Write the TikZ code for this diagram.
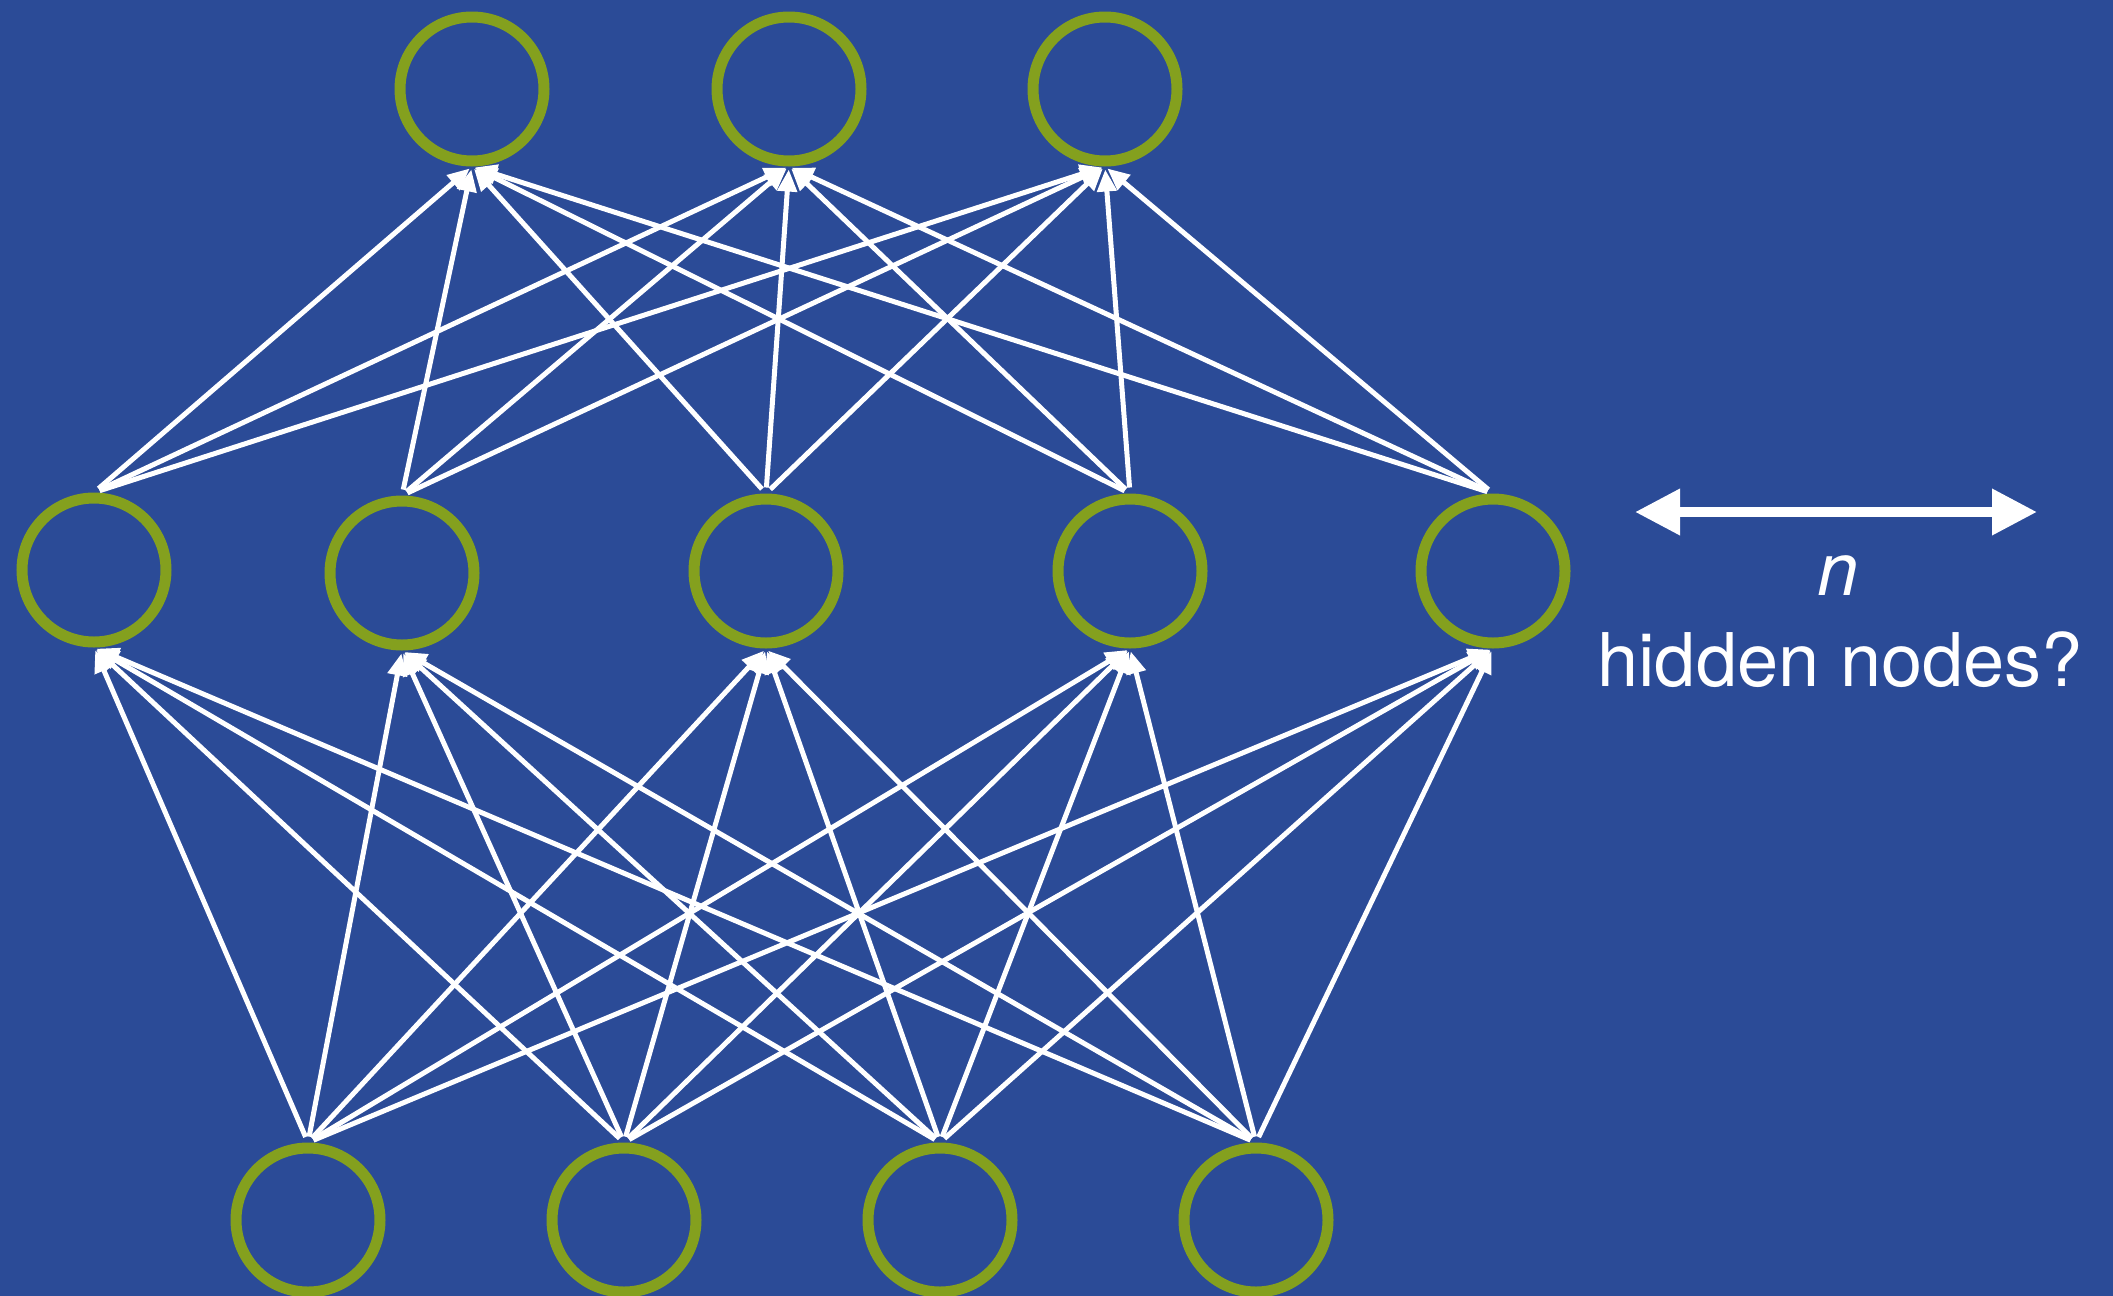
\documentclass[tikz,border=0pt]{standalone}
\usepackage{fontspec}
\setmainfont{TeX Gyre Heros}
\usetikzlibrary{arrows.meta}
\definecolor{slideblue}{RGB}{43,75,151}
\definecolor{unitgreen}{RGB}{132,160,30}
\begin{document}
\begin{tikzpicture}[x=1pt,y=-1pt,
  unit/.style={circle, draw=unitgreen, line width=11pt, minimum size=144pt, inner sep=0pt},
  link/.style={draw=white, line width=5pt, -{Triangle[length=22pt,width=19pt]},
    shorten <=6pt, shorten >=3pt},
  sidetext/.style={text=white, font=\fontsize{74}{88}\selectfont, anchor=base, inner sep=0pt}]
% slide background
\fill[slideblue] (0,0) rectangle (2113,1296);
\useasboundingbox (0,0) rectangle (2113,1296);

% output layer
\node[unit] (o1) at (472,89) {};
\node[unit] (o2) at (789,89) {};
\node[unit] (o3) at (1105,89) {};

% hidden layer
\node[unit] (h1) at (94,570) {};
\node[unit] (h2) at (402,573) {};
\node[unit] (h3) at (766,571) {};
\node[unit] (h4) at (1130,571) {};
\node[unit] (h5) at (1493,571) {};

% input layer
\node[unit] (i1) at (308,1220) {};
\node[unit] (i2) at (624,1220) {};
\node[unit] (i3) at (940,1220) {};
\node[unit] (i4) at (1256,1220) {};

% fully connected weights
\foreach \h in {1,...,5}
  \foreach \o in {1,2,3}
    \draw[link] (h\h.north) -- (o\o.south);
\foreach \i in {1,...,4}
  \foreach \h in {1,...,5}
    \draw[link] (i\i.north) -- (h\h.south);

% width of the hidden layer
\coordinate (wl) at (1635,512);
\coordinate (wr) at (2037,512);
\draw[white, line width=10pt,
  {Triangle[length=45pt,width=44pt]}-{Triangle[length=45pt,width=44pt]}] (wl) -- (wr);
\node[sidetext] (nvar) at (1838,595) {\itshape n};
\node[sidetext] (ncap) at (1840,686) {hidden nodes?};
\end{tikzpicture}
\end{document}
